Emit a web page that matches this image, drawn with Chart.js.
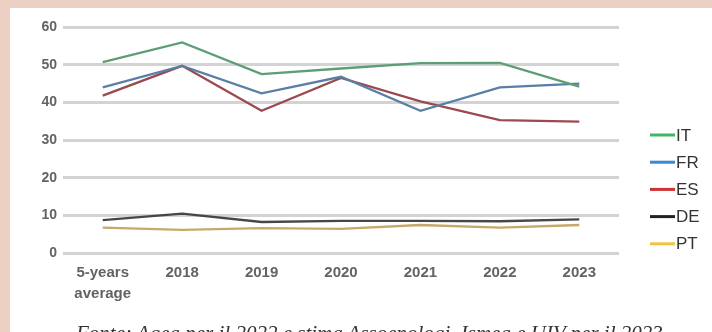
<!DOCTYPE html>
<html><head><meta charset="utf-8">
<script src="https://cdn.jsdelivr.net/npm/chart.js@4/dist/chart.umd.min.js"></script>
<style>
html,body{margin:0;padding:0;}
body{width:712px;height:332px;overflow:hidden;background:#ecd0c4;position:relative;}
#box{position:absolute;left:10px;top:8px;width:702px;height:324px;background:#fff;overflow:hidden;}
#c{position:absolute;left:0;top:0;}
#note{position:absolute;left:66px;top:315px;white-space:nowrap;font-family:"Liberation Serif",serif;font-style:italic;font-size:21px;line-height:21px;color:#333;}
</style></head>
<body>
<div id="box"><canvas id="c" width="702" height="324"></canvas>
<div id="note">Fonte: Agea per il 2022 e stima Assoenologi, Ismea e UIV per il 2023</div></div>
<script>
const categories = [["5-years","average"],"2018","2019","2020","2021","2022","2023"];
const seriesNames = ["IT","FR","ES","DE","PT"];
const IT = [50.7, 55.9, 47.5, 49.0, 50.4, 50.5, 44.2];
const FR = [44.0, 49.7, 42.4, 46.8, 37.8, 44.0, 45.0];
const ES = [41.8, 49.7, 37.8, 46.5, 40.3, 35.3, 34.9];
const DE = [8.8, 10.5, 8.3, 8.6, 8.6, 8.5, 9.0];
const PT = [6.8, 6.2, 6.7, 6.5, 7.5, 6.8, 7.5];
const yTicks = [0,10,20,30,40,50,60];

const lineColors = ["#5e9e74","#5a7fa6","#9a4a50","#474747","#c6a96a"];
const legendColors = ["#3fb56a","#3c86d4","#cc3333","#222222","#f2c444"];
const values = [IT,FR,ES,DE,PT];

const legendPlugin = {
  id:'customLegend',
  afterDraw(chart){
    const ctx = chart.ctx;
    ctx.save();
    ctx.font = '17px "Liberation Sans", Arial, sans-serif';
    ctx.textBaseline = 'middle';
    ctx.fillStyle = '#333';
    chart.data.datasets.forEach((ds,i)=>{
      const y = 127 + i*27.2;
      ctx.strokeStyle = legendColors[i];
      ctx.lineWidth = 3;
      ctx.beginPath(); ctx.moveTo(640,y); ctx.lineTo(665,y); ctx.stroke();
      ctx.fillText(ds.label, 666, y+1);
    });
    ctx.restore();
  }
};

new Chart(document.getElementById('c'),{
  type:'line',
  data:{
    labels:categories,
    datasets:seriesNames.map((n,i)=>({
      label:n, data:values[i], borderColor:lineColors[i], backgroundColor:lineColors[i],
      borderWidth:2.3, pointRadius:0, tension:0, fill:false
    }))
  },
  options:{
    responsive:false, animation:false,
    layout:{padding:{top:19,right:93,left:0,bottom:0}},
    plugins:{legend:{display:false},tooltip:{enabled:false}},
    scales:{
      x:{
        offset:true,
        grid:{display:false,drawTicks:false},
        border:{display:false},
        ticks:{color:'#636363',padding:9,font:{family:'"Liberation Sans", Arial, sans-serif',size:15,weight:'bold',lineHeight:1.4},maxRotation:0,autoSkip:false},
        afterFit(s){ s.height = 78.7; }
      },
      y:{
        min:0,max:60,
        afterBuildTicks(s){ s.ticks = yTicks.map(v=>({value:v})); },
        grid:{color:'#d3d3d3',lineWidth:3,drawTicks:false},
        border:{display:false},
        ticks:{color:'#636363',padding:6,font:{family:'"Liberation Sans", Arial, sans-serif',size:14,weight:'bold'}},
        afterFit(s){ s.width = 53; }
      }
    }
  },
  plugins:[legendPlugin]
});
</script>
</body></html>
